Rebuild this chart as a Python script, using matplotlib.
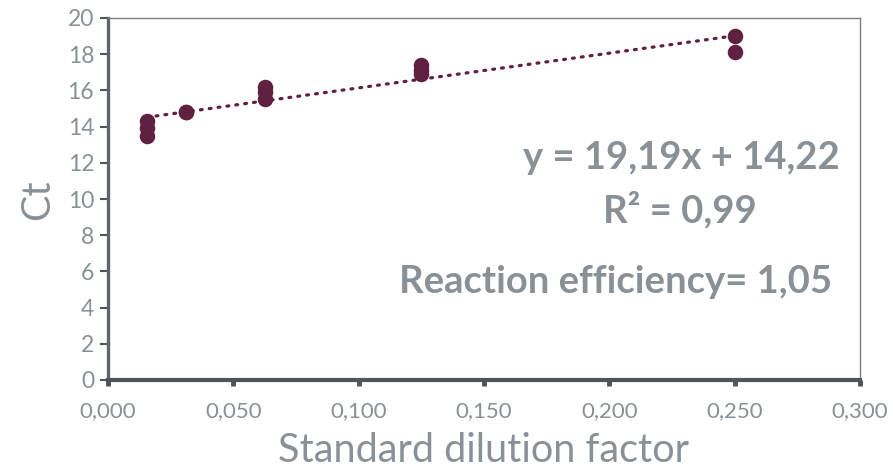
import matplotlib
matplotlib.use("Agg")
import matplotlib.pyplot as plt
import numpy as np
from matplotlib.ticker import FuncFormatter, MultipleLocator

# Data
dilution = [1/64, 1/64, 1/64, 1/32, 1/32, 1/16, 1/16, 1/16, 1/8, 1/8, 1/8, 1/4, 1/4]
ct = [14.3, 13.9, 13.5, 14.8, 14.8, 16.2, 15.9, 15.5, 17.4, 17.1, 16.9, 19.0, 18.1]
slope = 19.19
intercept = 14.22
eq_text = "y = 19,19x + 14,22"
r2_text = "R² = 0,99"
eff_text = "Reaction efficiency= 1,05"

plt.rcParams['font.family'] = ['Lato', 'DejaVu Sans']

fig = plt.figure(figsize=(8.93, 4.72), dpi=100)
ax = fig.add_axes([108/893, 92/472, 752/893, 362/472])

maroon = "#60203F"
txtgray = "#8A9196"

ax.scatter(dilution, ct, s=125, color=maroon, zorder=3, linewidths=0)
xs = np.array([min(dilution), max(dilution)])
ax.plot(xs, slope * xs + intercept, linestyle=(0, (0.6, 2.2)), color=maroon,
        linewidth=2.3, dash_capstyle='round', zorder=2)

ax.set_xlim(0, 0.3)
ax.set_ylim(0, 20)
ax.xaxis.set_major_locator(MultipleLocator(0.05))
ax.yaxis.set_major_locator(MultipleLocator(2))
ax.xaxis.set_major_formatter(FuncFormatter(lambda v, p: f"{v:.3f}".replace('.', ',')))
ax.yaxis.set_major_formatter(FuncFormatter(lambda v, p: f"{v:.0f}"))

for s in ['top', 'right']:
    ax.spines[s].set_color("#7A7F83")
    ax.spines[s].set_linewidth(1.0)
ax.spines['left'].set_color("#5F6569")
ax.spines['left'].set_linewidth(2.4)
ax.spines['bottom'].set_color("#4E5457")
ax.spines['bottom'].set_linewidth(3.0)

ax.tick_params(axis='y', direction='out', length=6, width=1.5, color="#4E5457",
               labelsize=16.5, labelcolor=txtgray, pad=4)
ax.tick_params(axis='x', direction='out', length=4, width=3.5, color="#4E5457",
               labelsize=16, labelcolor=txtgray, pad=11)

ax.set_xlabel("Standard dilution factor", fontsize=28.5, color=txtgray, labelpad=8)
ax.text(38/893, 1 - 200/472, "Ct", transform=fig.transFigure, rotation=90,
        ha='center', va='center', fontsize=28.5, color=txtgray)

ax.text(681/893, 1 - 158/472, eq_text, transform=fig.transFigure, ha='center', va='center',
        fontsize=27.5, fontweight='bold', color=txtgray)
ax.text(680/893, 1 - 210/472, r2_text, transform=fig.transFigure, ha='center', va='center',
        fontsize=27.5, fontweight='bold', color=txtgray)
ax.text(616/893, 1 - 282/472, eff_text, transform=fig.transFigure, ha='center', va='center',
        fontsize=27.5, fontweight='bold', color=txtgray)

fig.savefig("out.png", dpi=100)
